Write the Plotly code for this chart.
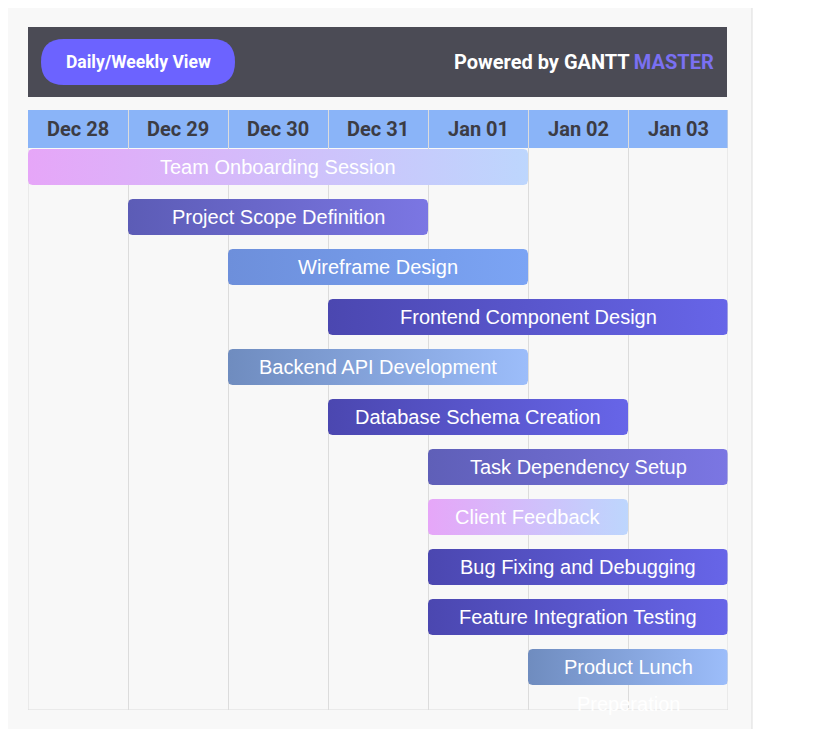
import numpy as np
import plotly.graph_objects as go

# timeline data
days = ["Dec 28", "Dec 29", "Dec 30", "Dec 31", "Jan 01", "Jan 02", "Jan 03"]
tasks = ["Team Onboarding Session", "Project Scope Definition", "Wireframe Design",
         "Frontend Component Design", "Backend API Development", "Database Schema Creation",
         "Task Dependency Setup", "Client Feedback", "Bug Fixing and Debugging",
         "Feature Integration Testing", "Product Lunch<br>Preperation"]
start = [0, 1, 2, 3, 2, 3, 4, 4, 4, 4, 5]
duration = [5, 3, 3, 4, 3, 3, 3, 2, 3, 3, 2]
color_from = ["#e6a6f8", "#5c5cb6", "#6d8fdb", "#4b47b0", "#6f8cbf", "#4b47b0",
              "#5f5fb8", "#e6a6f8", "#4b47b0", "#4b47b0", "#6f8cbf"]
color_to = ["#bdd6fd", "#7b76e3", "#7ba4f4", "#6765e8", "#9cbdfa", "#6765e8",
            "#7b76e3", "#bdd6fd", "#6765e8", "#6765e8", "#9cbdfa"]

BAR_H = 0.72


def rounded_rect(x0, x1, y0, y1, rx=0.045, ry=0.09, n=6):
    xs, ys = [], []
    corners = [(x1 - rx, y0 + ry, -np.pi / 2, 0), (x1 - rx, y1 - ry, 0, np.pi / 2),
               (x0 + rx, y1 - ry, np.pi / 2, np.pi), (x0 + rx, y0 + ry, np.pi, 1.5 * np.pi)]
    for cx, cy, a0, a1 in corners:
        t = np.linspace(a0, a1, n)
        xs += list(cx + rx * np.cos(t))
        ys += list(cy + ry * np.sin(t))
    xs.append(xs[0])
    ys.append(ys[0])
    return xs, ys


fig = go.Figure()

# page pixel -> paper coords (plot area spans x 28..728, y 110..710 on the page)
def px(v):
    return (v - 28) / 700


def py(v):
    return (710 - v) / 600


fig.add_shape(type="rect", xref="paper", yref="paper", x0=px(2), x1=px(752), y0=py(740), y1=py(2),
              fillcolor="#f8f8f8", line=dict(color="#dddddd", width=1), layer="below")
fig.add_shape(type="rect", xref="paper", yref="paper", x0=px(28), x1=px(727), y0=py(97), y1=py(27),
              fillcolor="#4b4b55", line=dict(width=0), layer="below")
# pill button
r = 23
fig.add_shape(type="path", xref="paper", yref="paper",
              path=(f"M {px(41+r)},{py(39)} L {px(235-r)},{py(39)} "
                    f"Q {px(235)},{py(39)} {px(235)},{py(62)} Q {px(235)},{py(85)} {px(235-r)},{py(85)} "
                    f"L {px(41+r)},{py(85)} Q {px(41)},{py(85)} {px(41)},{py(62)} "
                    f"Q {px(41)},{py(39)} {px(41+r)},{py(39)} Z"),
              fillcolor="#6c63ff", line=dict(width=0), layer="below")
fig.add_annotation(xref="paper", yref="paper", x=px(138), y=py(62), xanchor="center", yanchor="middle",
                   text="<b>Daily/Weekly View</b>",
                   showarrow=False, font=dict(family="Roboto", size=17.5, color="white"))
fig.add_annotation(xref="paper", yref="paper", x=px(716), y=py(62), xanchor="right", yanchor="middle",
                   text="<b>Powered by GANTT\u2009</b><b><span style='color:#7a70f2'>MASTER</span></b>",
                   showarrow=False, font=dict(family="Roboto", size=20, color="white"))

# date header row
fig.add_shape(type="rect", x0=0, x1=7, y0=-0.76, y1=0, fillcolor="#8ab4f8",
              line=dict(width=0), layer="below")
for i, d in enumerate(days):
    fig.add_annotation(x=i + 0.5, y=-0.38, text=f"<b>{d}</b>", showarrow=False,
                       font=dict(family="Roboto", size=20, color="#3c3c44"))

# bars
for i, name in enumerate(tasks):
    x0, x1 = start[i], start[i] + duration[i]
    xs, ys = rounded_rect(x0, x1, i + 0.02, i + 0.02 + BAR_H)
    fig.add_trace(go.Scatter(x=xs, y=ys, mode="lines", fill="toself", line=dict(width=0),
                             fillgradient=dict(type="horizontal",
                                               colorscale=[[0, color_from[i]], [1, color_to[i]]]),
                             hoverinfo="skip", showlegend=False))
    lines = name.split("<br>")
    for k, ln in enumerate(lines):
        fig.add_annotation(x=(x0 + x1) / 2, y=i + 0.38 + 0.74 * k, text=ln, showarrow=False,
                           font=dict(family="Liberation Sans", size=20, color="white"))

fig.update_xaxes(range=[0, 7], dtick=1, tick0=0, showgrid=True, gridcolor="#dcdcdc",
                 showticklabels=False, zeroline=False, showline=False)
fig.update_yaxes(range=[11.24, -0.76], showgrid=False, showticklabels=False, zeroline=False)
fig.add_shape(type="line", x0=0, x1=7, y0=11.24, y1=11.24, line=dict(color="#dcdcdc", width=1))
fig.add_shape(type="line", x0=7, x1=7, y0=-0.76, y1=11.24, line=dict(color="#dcdcdc", width=1))
fig.add_shape(type="line", x0=0, x1=0, y0=0, y1=11.24, line=dict(color="#dcdcdc", width=1), layer="below")

# page body adds an 8px offset, so margins are shifted by it
fig.update_layout(width=827, height=729, margin=dict(l=20, r=107, t=102, b=27),
                  paper_bgcolor="white", plot_bgcolor="rgba(0,0,0,0)")
fig.write_html("out.html")
